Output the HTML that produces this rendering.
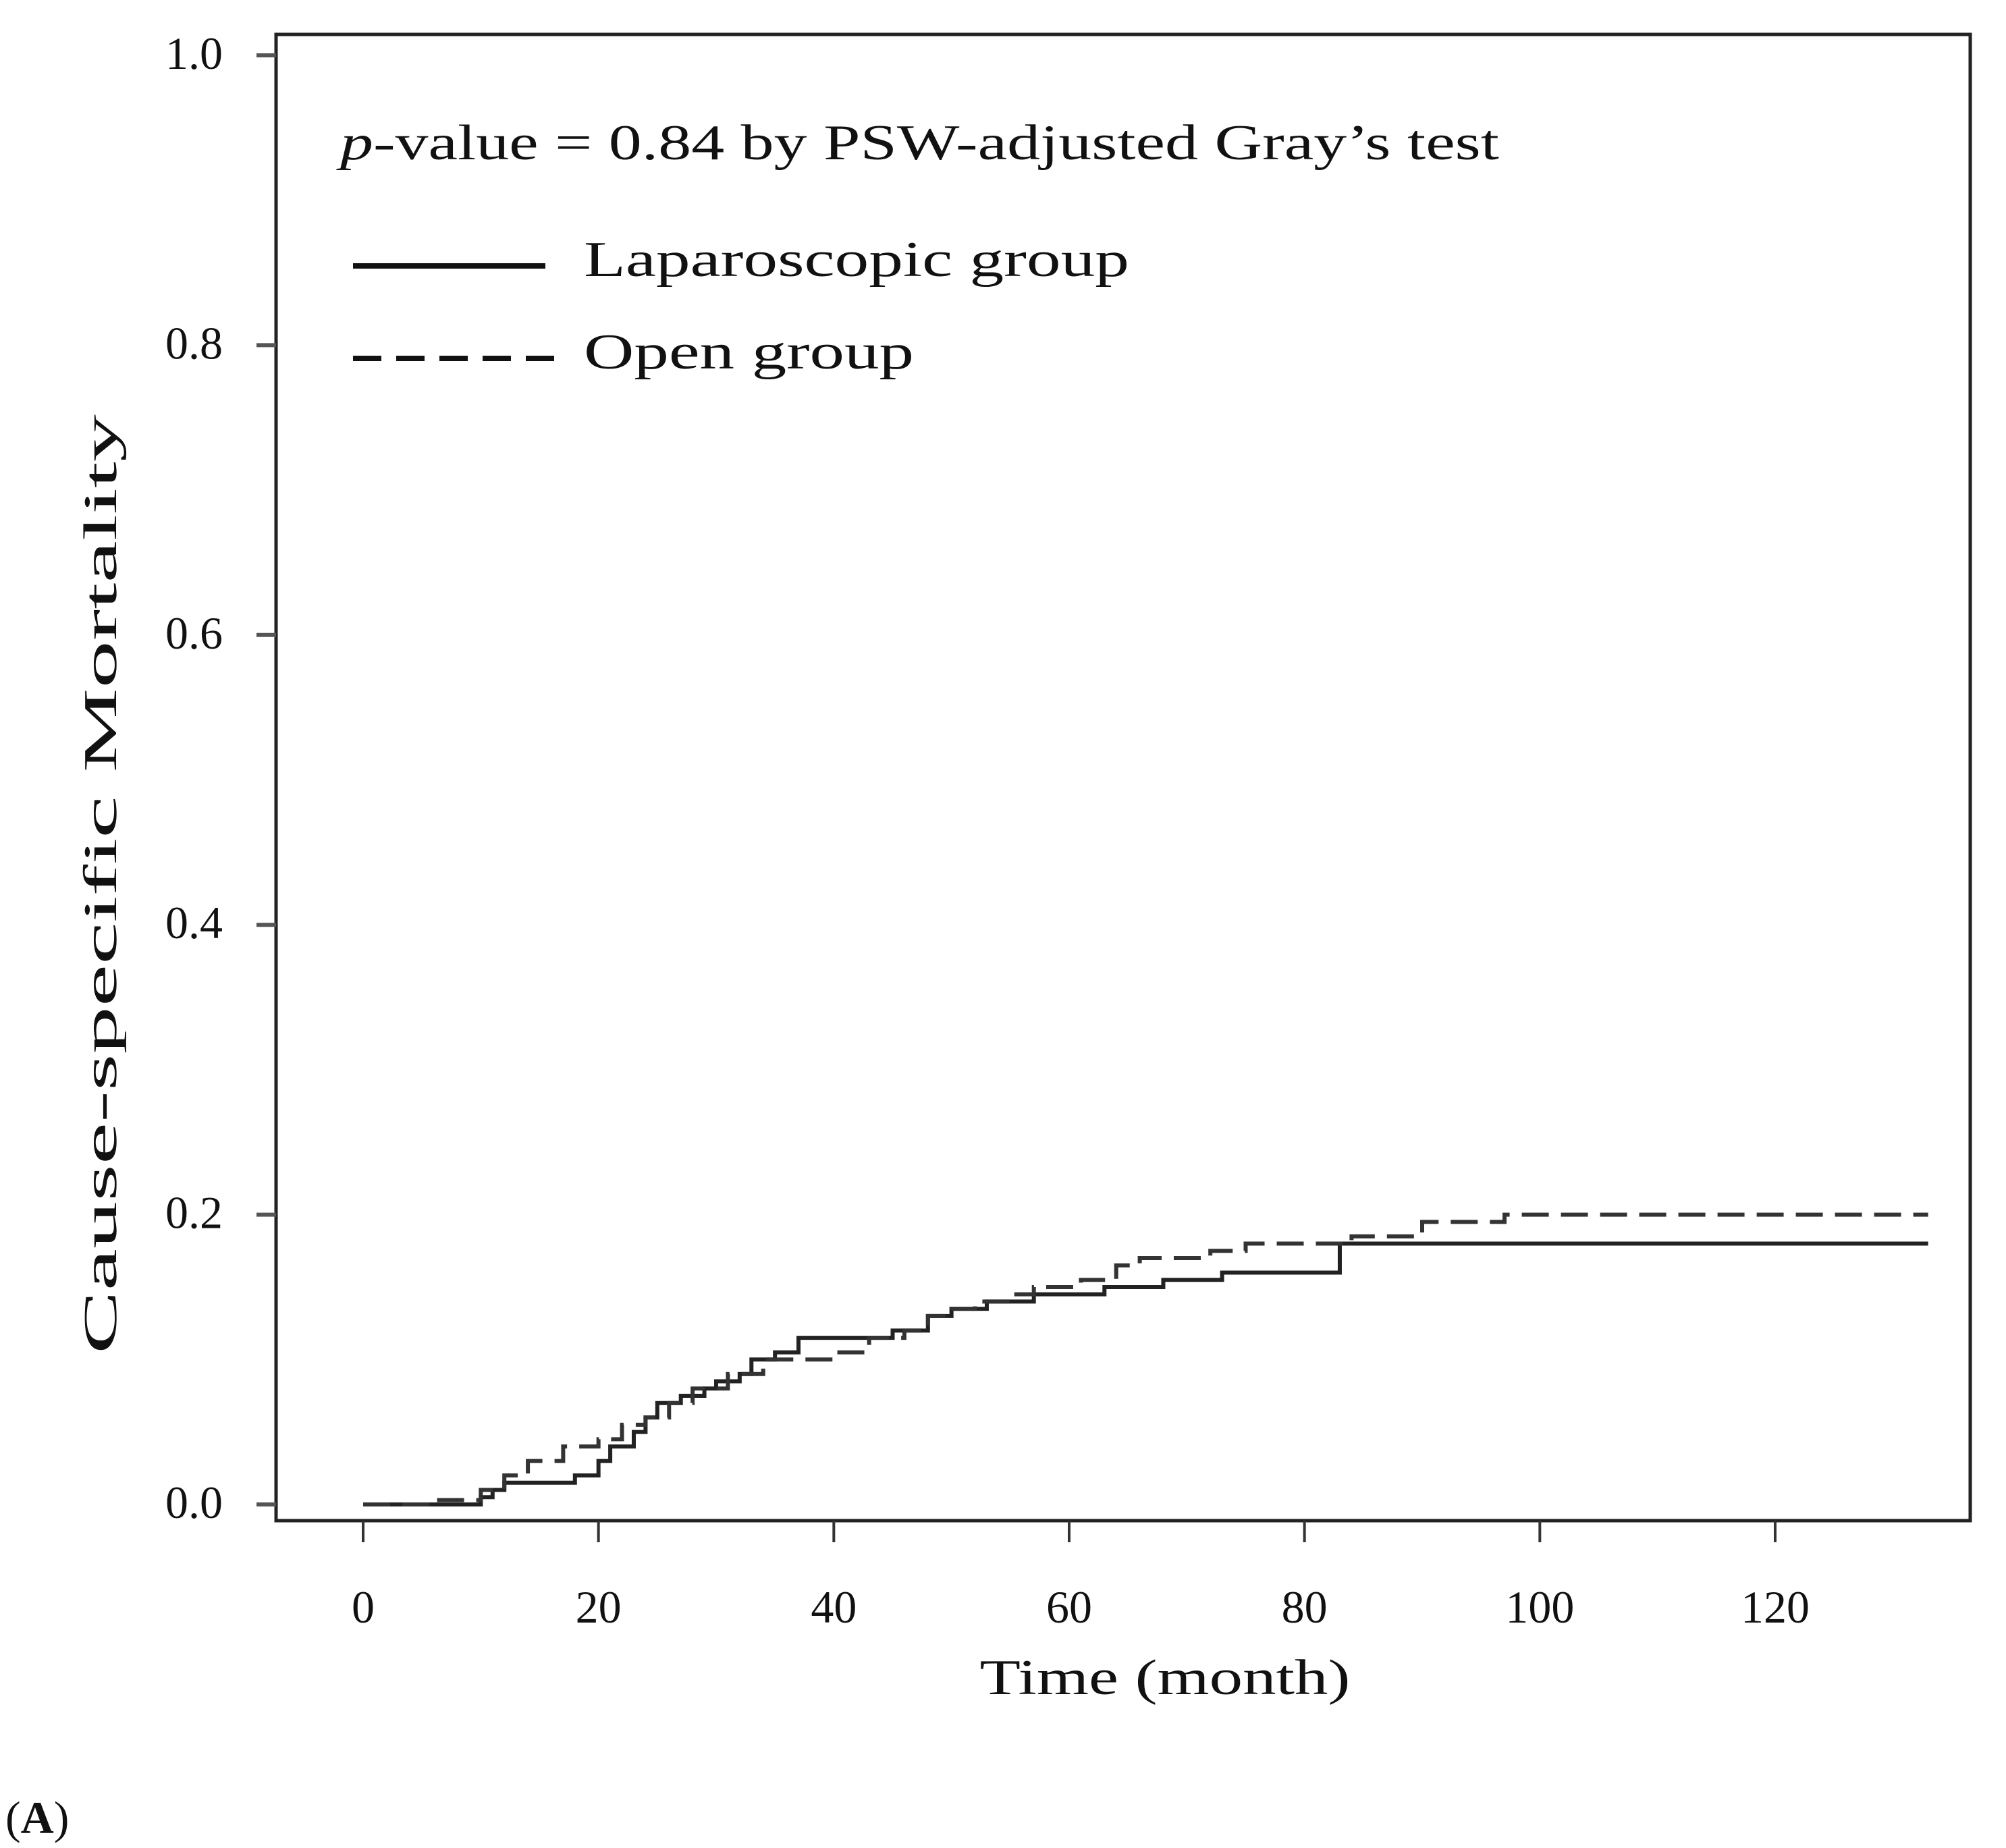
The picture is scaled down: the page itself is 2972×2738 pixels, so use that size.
<!DOCTYPE html>
<html><head><meta charset="utf-8">
<style>html,body{margin:0;padding:0;background:#fff}svg{display:block}text{font-family:"Liberation Serif",serif;fill:#111}</style>
</head><body>
<svg id="chart" width="2972" height="2738" viewBox="0 0 2972 2738" xmlns="http://www.w3.org/2000/svg">
<rect x="0" y="0" width="2972" height="2738" fill="#fff"/>
<rect x="409" y="51" width="2510" height="2202" fill="none" stroke="#222" stroke-width="5"/>
<g id="axes"></g>
<g id="series"></g>
<text x="504" y="236" font-size="74" textLength="1717" lengthAdjust="spacingAndGlyphs"><tspan font-style="italic">p</tspan>-value = 0.84 by PSW-adjusted Gray’s test</text>
<line x1="523" y1="394" x2="808" y2="394" stroke="#111" stroke-width="8"/>
<text x="865" y="409" font-size="74" textLength="808" lengthAdjust="spacingAndGlyphs">Laparoscopic group</text>
<line x1="523" y1="531" x2="826" y2="531" stroke="#111" stroke-width="8" stroke-dasharray="42,22"/>
<text x="865" y="546" font-size="74" textLength="489" lengthAdjust="spacingAndGlyphs">Open group</text>
<text x="1726" y="2510" font-size="74" text-anchor="middle" textLength="549" lengthAdjust="spacingAndGlyphs">Time (month)</text>
<text transform="translate(172,1310) rotate(-90)" font-size="70" text-anchor="middle" textLength="1392" lengthAdjust="spacingAndGlyphs">Cause-specific Mortality</text>
<text x="8" y="2716" font-size="68">(<tspan font-weight="bold">A</tspan>)</text>
</svg>
<script>
const xTicks = [0, 20, 40, 60, 80, 100, 120];
const yTicks = [0.0, 0.2, 0.4, 0.6, 0.8, 1.0];
const yTickLabels = ["0.0", "0.2", "0.4", "0.6", "0.8", "1.0"];
const lapTimes = [0, 9, 10, 11, 12, 18, 20, 21, 23, 24, 25, 27, 29, 30, 32, 33, 35, 37, 42, 45, 48, 50, 53, 57, 63, 68, 73, 83, 133];
const lapValues = [0, 0, 0.005, 0.01, 0.015, 0.02, 0.03, 0.04, 0.05, 0.06, 0.07, 0.075, 0.08, 0.085, 0.09, 0.1, 0.105, 0.115, 0.115, 0.12, 0.13, 0.135, 0.14, 0.145, 0.15, 0.155, 0.16, 0.18, 0.18];
const openTimes = [0, 6, 10, 12, 14, 17, 20, 22, 24, 26, 28, 31, 34, 38, 40, 43, 46, 48, 50, 52, 55, 57, 61, 64, 66, 72, 75, 84, 90, 97, 133];
const openValues = [0, 0.003, 0.01, 0.02, 0.03, 0.04, 0.045, 0.055, 0.06, 0.07, 0.08, 0.09, 0.1, 0.1, 0.105, 0.115, 0.12, 0.13, 0.135, 0.14, 0.145, 0.15, 0.155, 0.165, 0.17, 0.175, 0.18, 0.185, 0.195, 0.2, 0.2];

const NS = "http://www.w3.org/2000/svg";
const X0 = 538, XPER = (2630 - 538) / 120;
const Y0 = 2229, YPER = (2229 - 82) / 1.0;
function sx(t) { return X0 + t * XPER; }
function sy(v) { return Y0 - v * YPER; }
const axes = document.getElementById("axes");
const series = document.getElementById("series");

xTicks.forEach(function (t) {
  const l = document.createElementNS(NS, "line");
  l.setAttribute("x1", sx(t)); l.setAttribute("x2", sx(t));
  l.setAttribute("y1", 2253); l.setAttribute("y2", 2285);
  l.setAttribute("stroke", "#333"); l.setAttribute("stroke-width", "4");
  
  
  axes.appendChild(l);
  const tx = document.createElementNS(NS, "text");
  tx.setAttribute("x", sx(t)); tx.setAttribute("y", 2404);
  tx.setAttribute("font-size", "68"); tx.setAttribute("text-anchor", "middle");
  tx.textContent = String(t);
  
  
  axes.appendChild(tx);
});
yTicks.forEach(function (v, i) {
  const l = document.createElementNS(NS, "line");
  l.setAttribute("x1", 380); l.setAttribute("x2", 409);
  l.setAttribute("y1", sy(v)); l.setAttribute("y2", sy(v));
  l.setAttribute("stroke", "#555"); l.setAttribute("stroke-width", "6");
  
  
  axes.appendChild(l);
  const tx = document.createElementNS(NS, "text");
  tx.setAttribute("x", 330); tx.setAttribute("y", sy(v) + 20);
  tx.setAttribute("font-size", "68"); tx.setAttribute("text-anchor", "end");
  tx.textContent = yTickLabels[i];
  
  
  axes.appendChild(tx);
});

function stepPath(ts, vs) {
  let d = "M" + sx(ts[0]) + "," + sy(vs[0]);
  for (let i = 1; i < ts.length; i++) {
    d += " H" + sx(ts[i]) + " V" + sy(vs[i]);
  }
  return d;
}
const lap = document.createElementNS(NS, "path");
lap.setAttribute("d", stepPath(lapTimes, lapValues));
lap.setAttribute("fill", "none"); lap.setAttribute("stroke", "#222"); lap.setAttribute("stroke-width", "6");


series.appendChild(lap);
const op = document.createElementNS(NS, "path");
op.setAttribute("d", stepPath(openTimes, openValues));
op.setAttribute("fill", "none"); op.setAttribute("stroke", "#333"); op.setAttribute("stroke-width", "6");
op.setAttribute("stroke-dasharray", "40,18");


series.appendChild(op);
</script>
</body></html>
